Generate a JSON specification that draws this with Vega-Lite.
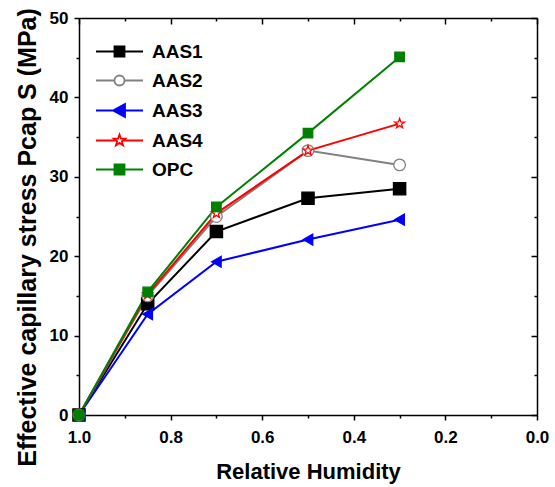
{
  "$schema": "https://vega.github.io/schema/vega-lite/v6.json",
  "width": 458,
  "height": 397,
  "autosize": {"type": "none"},
  "padding": {"left": 79, "top": 18, "right": 18, "bottom": 72},
  "background": "white",
  "config": {
    "view": {"stroke": null},
    "font": "Liberation Sans",
    "axis": {"grid": false, "labelFlush": false, "domainColor": "black", "domainWidth": 1.5, "tickColor": "black", "tickWidth": 1.5, "labelColor": "black", "titleColor": "black", "labelFont": "Liberation Sans", "titleFont": "Liberation Sans", "labelFontWeight": "bold", "titleFontWeight": "bold"}
  },
  "data": {
    "values": [
      {"rh": 1.0, "s": 0, "series": "AAS1"},
      {"rh": 0.85, "s": 14.0, "series": "AAS1"},
      {"rh": 0.7, "s": 23.1, "series": "AAS1"},
      {"rh": 0.5, "s": 27.3, "series": "AAS1"},
      {"rh": 0.3, "s": 28.5, "series": "AAS1"},
      {"rh": 1.0, "s": 0, "series": "AAS2"},
      {"rh": 0.85, "s": 15.0, "series": "AAS2"},
      {"rh": 0.7, "s": 25.0, "series": "AAS2"},
      {"rh": 0.5, "s": 33.3, "series": "AAS2"},
      {"rh": 0.3, "s": 31.5, "series": "AAS2"},
      {"rh": 1.0, "s": 0, "series": "AAS3"},
      {"rh": 0.85, "s": 12.7, "series": "AAS3"},
      {"rh": 0.7, "s": 19.3, "series": "AAS3"},
      {"rh": 0.5, "s": 22.1, "series": "AAS3"},
      {"rh": 0.3, "s": 24.6, "series": "AAS3"},
      {"rh": 1.0, "s": 0, "series": "AAS4"},
      {"rh": 0.85, "s": 15.2, "series": "AAS4"},
      {"rh": 0.7, "s": 25.4, "series": "AAS4"},
      {"rh": 0.5, "s": 33.3, "series": "AAS4"},
      {"rh": 0.3, "s": 36.7, "series": "AAS4"},
      {"rh": 1.0, "s": 0, "series": "OPC"},
      {"rh": 0.85, "s": 15.5, "series": "OPC"},
      {"rh": 0.7, "s": 26.2, "series": "OPC"},
      {"rh": 0.5, "s": 35.5, "series": "OPC"},
      {"rh": 0.3, "s": 45.1, "series": "OPC"}
    ]
  },
  "resolve": {"axis": {"x": "independent", "y": "independent"}},
  "layer": [
    {
      "mark": {"type": "line", "strokeWidth": 2},
      "encoding": {
        "x": {
          "field": "rh", "type": "quantitative",
          "scale": {"domain": [0, 1], "reverse": true, "nice": false},
          "axis": {
            "orient": "bottom",
            "title": "Relative Humidity",
            "values": [0, 0.1, 0.2, 0.3, 0.4, 0.5, 0.6, 0.7, 0.8, 0.9, 1.0],
            "labelExpr": "round(datum.value*10) % 2 == 0 ? format(datum.value, '.1f') : ''",
            "tickSize": {"condition": {"test": "round(datum.value*10) % 2 == 0", "value": 5}, "value": 3},
            "labelFontSize": 17,
            "labelPadding": 9,
            "titleFontSize": 22,
            "titlePadding": 16
          }
        },
        "y": {
          "field": "s", "type": "quantitative",
          "scale": {"domain": [0, 50], "nice": false},
          "axis": {
            "orient": "left",
            "title": "Effective capillary stress Pcap S (MPa)",
            "values": [0, 5, 10, 15, 20, 25, 30, 35, 40, 45, 50],
            "labelExpr": "datum.value % 10 == 0 ? datum.label : ''",
            "tickSize": {"condition": {"test": "datum.value % 10 == 0", "value": 5}, "value": 3},
            "labelFontSize": 17,
            "labelPadding": 6,
            "titleFontSize": 25,
            "titleAngle": -90,
            "titleAlign": "center",
            "titleBaseline": "alphabetic",
            "titleX": -44,
            "titleY": 219
          }
        },
        "stroke": {
          "field": "series", "type": "nominal",
          "scale": {"domain": ["AAS1", "AAS2", "AAS3", "AAS4", "OPC"], "range": ["black", "#808080", "#0000ff", "#ff0000", "#008000"]},
          "legend": {
            "title": null,
            "orient": "none",
            "legendX": 31,
            "legendY": 24,
            "padding": 0,
            "symbolSize": 100,
            "symbolStrokeWidth": 2,
            "labelOffset": 23,
            "rowPadding": 9,
            "labelFont": "Liberation Sans",
            "labelFontWeight": "bold",
            "labelFontSize": 19,
            "labelColor": "black",
            "encode": {
              "symbols": {
                "update": {
                  "shape": {"signal": "datum.value === 'AAS1' || datum.value === 'OPC' ? 'M-4.7,0H4.7M-1,-1H1V1H-1Z' : datum.value === 'AAS2' ? 'M-4.7,0H-1M1,0H4.7M1,0A1,1 0 1,1 -1,0A1,1 0 1,1 1,0Z' : datum.value === 'AAS3' ? 'M-4.7,0H4.7M-1.3,0L1.1,-1.3L1.1,1.3Z' : 'M-4.7,0H-0.65M0.65,0H4.7M0,-1.2L0.282,-0.389L1.141,-0.371L0.456,0.149L0.706,0.971L0,0.48L-0.706,0.971L-0.456,0.149L-1.141,-0.371L-0.282,-0.389Z'"},
                  "fill": {"signal": "datum.value === 'AAS1' ? 'black' : datum.value === 'AAS3' ? '#0000ff' : datum.value === 'OPC' ? '#008000' : 'white'"},
                  "fillOpacity": {"value": 1},
                  "strokeWidth": {"value": 1.8},
                  "size": {"value": 100}
                }
              }
            }
          }
        }
      }
    },
    {
      "mark": {"type": "point", "filled": true, "opacity": 1, "strokeWidth": 1.3},
      "encoding": {
        "x": {
          "field": "rh", "type": "quantitative",
          "axis": {
            "orient": "top", "title": null, "labels": false,
            "values": [0, 0.1, 0.2, 0.3, 0.4, 0.5, 0.6, 0.7, 0.8, 0.9, 1.0],
            "tickSize": {"condition": {"test": "round(datum.value*10) % 2 == 0", "value": -6}, "value": -3}
          }
        },
        "y": {
          "field": "s", "type": "quantitative",
          "axis": {
            "orient": "right", "title": null, "labels": false,
            "values": [0, 5, 10, 15, 20, 25, 30, 35, 40, 45, 50],
            "tickSize": {"condition": {"test": "datum.value % 10 == 0", "value": -6}, "value": -3}
          }
        },
        "stroke": {"field": "series", "type": "nominal", "legend": null},
        "fill": {
          "field": "series", "type": "nominal",
          "scale": {"domain": ["OPC", "AAS4", "AAS3", "AAS2", "AAS1"], "range": ["#008000", "white", "#0000ff", "white", "black"]},
          "legend": null
        },
        "shape": {
          "field": "series", "type": "nominal",
          "scale": {"domain": ["OPC", "AAS4", "AAS3", "AAS2", "AAS1"], "range": ["square", "M0,-1L0.235,-0.324L0.951,-0.309L0.380,0.124L0.588,0.809L0,0.4L-0.588,0.809L-0.380,0.124L-0.951,-0.309L-0.235,-0.324Z", "triangle-left", "circle", "square"]},
          "legend": null
        },
        "size": {
          "field": "series", "type": "nominal",
          "scale": {"domain": ["OPC", "AAS4", "AAS3", "AAS2", "AAS1"], "range": [90, 150, 150, 80, 90]},
          "legend": null
        }
      }
    }
  ]
}
